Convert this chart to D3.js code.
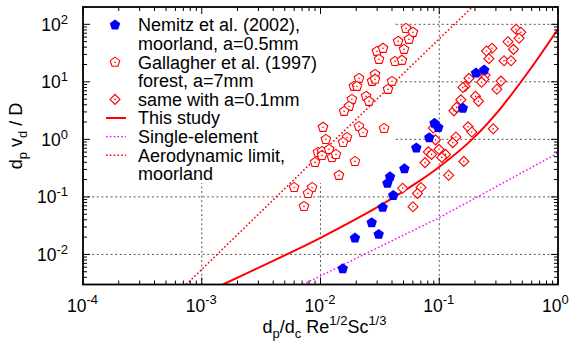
<!DOCTYPE html>
<meta charset="utf-8">
<script src="https://d3js.org/d3.v7.min.js"></script>
<style>
  body { margin: 0; background: #fff; }
  text { font-family: "Liberation Sans", Arial, sans-serif; fill: #000; }
</style>

<div id="viz"></div>

<script>

// axis ticks (decades) and their exponents
var xMajor = [1e-4, 1e-3, 1e-2, 1e-1, 1];
var xExp   = ["-4", "-3", "-2", "-1", "0"];
var yMajor = [1e-2, 1e-1, 1, 10, 100];
var yExp   = ["-2", "-1", "0", "1", "2"];

// Nemitz et al. (2002), moorland, a=0.5mm
var nemitzX = [0.0154, 0.0195, 0.0270, 0.0309, 0.0334, 0.0410, 0.0366, 0.0385,
               0.0509, 0.0641, 0.0824, 0.0912, 0.0982, 0.158, 0.204, 0.239];
var nemitzY = [0.00564, 0.0192, 0.0356, 0.0223, 0.0657, 0.106, 0.172, 0.223,
               0.307, 0.706, 1.07, 1.90, 1.60, 3.46, 14.2, 16.0];

// Gallagher et al. (1997) forest, a=7mm
var gallX = [0.0525, 0.060, 0.0556, 0.045, 0.0505, 0.0299, 0.0336, 0.0311, 0.0424, 0.0485,
             0.0288, 0.0211, 0.0272, 0.0288, 0.040, 0.0191, 0.0203, 0.037, 0.0242, 0.0256,
             0.0184, 0.0174, 0.0158, 0.0211, 0.0228, 0.0343, 0.0105, 0.0111, 0.0167, 0.0155,
             0.00953, 0.0103, 0.0118, 0.0125, 0.0135, 0.0103, 0.0090, 0.0195, 0.0143, 0.0060,
             0.0085, 0.00785, 0.00726];
var gallY = [85, 72.6, 54.8, 50.6, 36.7, 33.9, 38.3, 24.6, 22.7, 23.7,
             13.5, 11.5, 10.2, 11.1, 10.2, 8.35, 8.35, 7.41, 5.6, 4.58,
             4.96, 3.75, 3.07, 1.68, 1.32, 1.55, 1.62, 1.0, 1.08, 0.887,
             0.594, 0.618, 0.67, 0.486, 0.548, 0.527, 0.398, 0.414, 0.237, 0.146,
             0.146, 0.115, 0.0684];

// same with a=0.1mm
var smallX = [0.443, 0.487, 0.470, 0.379, 0.422, 0.278, 0.250, 0.262, 0.351, 0.402,
              0.243, 0.238, 0.227, 0.178, 0.165, 0.158, 0.331, 0.306, 0.202, 0.214,
              0.152, 0.133, 0.140, 0.175, 0.188, 0.285, 0.138, 0.130, 0.0891, 0.0929,
              0.0995, 0.0809, 0.0861, 0.113, 0.105, 0.0759, 0.161, 0.120, 0.0701, 0.0656,
              0.0492, 0.0601];
var smallY = [81.8, 72.6, 57.1, 49.6, 36.7, 38.3, 34.3, 25.3, 23.2, 23.2,
              13.2, 11.1, 9.8, 11.5, 8.35, 8.0, 10.3, 7.41, 5.6, 4.58,
              4.86, 3.13, 3.6, 1.65, 1.34, 1.53, 1.10, 0.877, 1.58, 0.98,
              0.67, 0.606, 0.548, 0.548, 0.486, 0.394, 0.414, 0.237, 0.146, 0.115,
              0.141, 0.0676];

// This study
var studyX = [0.00151, 0.00456, 0.0101, 0.0317, 0.0625, 0.101, 0.189, 0.325, 0.581, 1];
var studyY = [0.0030, 0.00879, 0.0196, 0.0703, 0.168, 0.338, 1.0, 3.37, 16.4, 83];

// Single-element
var singleX = [0.0071, 0.1, 1];
var singleY = [0.003, 0.0435, 0.58];

// Aerodynamic limit, moorland
var aeroX = [0.00074, 0.01, 0.1, 0.19];
var aeroY = [0.003, 0.56, 56, 200];

var legendRows = ["Nemitz et al. (2002),", "moorland, a=0.5mm", "Gallagher et al. (1997)",
                  "forest, a=7mm", "same with a=0.1mm", "This study", "Single-element",
                  "Aerodynamic limit,", "moorland"];

var margin = {top: 7, right: 15, bottom: 60.5, left: 83},
    width = 573 - margin.left - margin.right,
    height = 345 - margin.top - margin.bottom;

var root = d3.select("#viz")
  .append("svg")
    .attr("width", 573)
    .attr("height", 345);

var svg = root.append("g")
    .attr("transform", "translate(" + margin.left + "," + margin.top + ")");

var x = d3.scaleLog().domain([1e-4, 1]).range([0, width]);
var y = d3.scaleLog().domain([0.003, 200]).range([height, 0]);

svg.append("clipPath").attr("id", "clip")
  .append("rect").attr("width", width).attr("height", height);

// grid
var grid = svg.append("g").attr("stroke", "#555").attr("stroke-width", 1)
  .attr("stroke-dasharray", "2,2.6");
grid.selectAll(".gx").data(xMajor.slice(1, 4)).enter().append("line")
  .attr("x1", function(d) { return x(d); }).attr("x2", function(d) { return x(d); })
  .attr("y1", 0).attr("y2", height);
grid.selectAll(".gy").data(yMajor).enter().append("line")
  .attr("y1", function(d) { return y(d); }).attr("y2", function(d) { return y(d); })
  .attr("x1", 0).attr("x2", width);

// opaque key box
svg.append("rect")
  .attr("x", 0).attr("y", 0)
  .attr("width", 312).attr("height", 176)
  .style("fill", "#fff");

// pentagon symbol type
var pentagon = {
  draw: function(context, size) {
    var r = Math.sqrt(size / 2.378);
    for (var i = 0; i < 5; i++) {
      var a = -Math.PI / 2 + i * 2 * Math.PI / 5;
      if (i === 0) context.moveTo(r * Math.cos(a), r * Math.sin(a));
      else context.lineTo(r * Math.cos(a), r * Math.sin(a));
    }
    context.closePath();
  }
};

var plot = svg.append("g").attr("clip-path", "url(#clip)");

var line = d3.line()
  .x(function(d) { return x(d[0]); })
  .y(function(d) { return y(d[1]); });

plot.append("path")
  .datum(d3.zip(aeroX, aeroY))
  .attr("d", line)
  .style("fill", "none").style("stroke", "#f00")
  .style("stroke-width", 1.6).style("stroke-dasharray", "1.6,2.2");

plot.append("path")
  .datum(d3.zip(singleX, singleY))
  .attr("d", line)
  .style("fill", "none").style("stroke", "#f0f")
  .style("stroke-width", 1.4).style("stroke-dasharray", "1.6,2.2");

plot.append("path")
  .datum(d3.zip(studyX, studyY))
  .attr("d", line.curve(d3.curveCatmullRom))
  .style("fill", "none").style("stroke", "#f00")
  .style("stroke-width", 2);

function openMarks(xs, ys, type, size, rot) {
  var g = plot.append("g");
  var pts = d3.zip(xs, ys);
  g.selectAll("path").data(pts).enter().append("path")
    .attr("d", d3.symbol().type(type).size(size))
    .attr("transform", function(d) {
      return "translate(" + x(d[0]) + "," + y(d[1]) + ") rotate(" + rot + ")"; })
    .style("fill", "#fff").style("stroke", "#f00").style("stroke-width", 1.1);
  g.selectAll("circle").data(pts).enter().append("circle")
    .attr("cx", function(d) { return x(d[0]); })
    .attr("cy", function(d) { return y(d[1]); })
    .attr("r", 0.8)
    .style("fill", "#f00");
}

openMarks(gallX, gallY, pentagon, 60, 0);
openMarks(smallX, smallY, d3.symbolSquare, 50, 45);

plot.append("g").selectAll("path")
  .data(d3.zip(nemitzX, nemitzY)).enter().append("path")
    .attr("d", d3.symbol().type(pentagon).size(72))
    .attr("transform", function(d) { return "translate(" + x(d[0]) + "," + y(d[1]) + ")"; })
    .style("fill", "#00f");

// legend
var rowY = function(i) { return 18 + i * 18.6; };
var legend = svg.append("g");
legend.selectAll("text").data(legendRows).enter().append("text")
  .attr("x", 55)
  .attr("y", function(d, i) { return rowY(i) + 6.4; })
  .style("font-size", "18px")
  .text(function(d) { return d; });

legend.append("path")
  .attr("d", d3.symbol().type(pentagon).size(72))
  .attr("transform", "translate(32," + rowY(0) + ")")
  .style("fill", "#00f");
legend.append("path")
  .attr("d", d3.symbol().type(pentagon).size(60))
  .attr("transform", "translate(32," + rowY(2) + ")")
  .style("fill", "#fff").style("stroke", "#f00").style("stroke-width", 1.1);
legend.append("circle").attr("cx", 32).attr("cy", rowY(2)).attr("r", 0.8).style("fill", "#f00");
legend.append("path")
  .attr("d", d3.symbol().type(d3.symbolSquare).size(50))
  .attr("transform", "translate(32," + rowY(4) + ") rotate(45)")
  .style("fill", "#fff").style("stroke", "#f00").style("stroke-width", 1.1);
legend.append("circle").attr("cx", 32).attr("cy", rowY(4)).attr("r", 0.8).style("fill", "#f00");
legend.append("line").attr("x1", 23).attr("x2", 43).attr("y1", rowY(5)).attr("y2", rowY(5))
  .style("stroke", "#f00").style("stroke-width", 2);
legend.append("line").attr("x1", 23).attr("x2", 43).attr("y1", rowY(6)).attr("y2", rowY(6))
  .style("stroke", "#f0f").style("stroke-width", 1.4).style("stroke-dasharray", "1.6,2.2");
legend.append("line").attr("x1", 23).attr("x2", 43).attr("y1", rowY(7)).attr("y2", rowY(7))
  .style("stroke", "#f00").style("stroke-width", 1.6).style("stroke-dasharray", "1.6,2.2");

// ticks on all four sides
function isMajor(v) {
  var l = Math.log10(v);
  return Math.abs(l - Math.round(l)) < 1e-6;
}
var ticks = svg.append("g").attr("stroke", "#000").attr("stroke-width", 1);
x.ticks().forEach(function(v) {
  var len = isMajor(v) ? 7 : 4, px = x(v);
  ticks.append("line").attr("x1", px).attr("x2", px).attr("y1", height).attr("y2", height - len);
  ticks.append("line").attr("x1", px).attr("x2", px).attr("y1", 0).attr("y2", len);
});
y.ticks().forEach(function(v) {
  var len = isMajor(v) ? 7 : 4, py = y(v);
  ticks.append("line").attr("y1", py).attr("y2", py).attr("x1", 0).attr("x2", len);
  ticks.append("line").attr("y1", py).attr("y2", py).attr("x1", width).attr("x2", width - len);
});

svg.append("rect")
  .attr("width", width).attr("height", height)
  .style("fill", "none").style("stroke", "#000").style("stroke-width", 1.8);

// tick labels
xMajor.forEach(function(v, i) {
  var t = svg.append("text")
    .attr("x", x(v) - 16).attr("y", height + 27.5)
    .style("font-size", "17.5px");
  t.append("tspan").text("10");
  t.append("tspan").attr("dy", -8).style("font-size", "13px").text(xExp[i]);
});
yMajor.forEach(function(v, i) {
  var t = svg.append("text")
    .attr("x", -15).attr("y", y(v) + 6.3)
    .attr("text-anchor", "end")
    .style("font-size", "17.5px");
  t.append("tspan").text("10");
  t.append("tspan").attr("dy", -7).style("font-size", "13px").text(yExp[i]);
});

// axis titles
var xt = svg.append("text")
  .attr("x", width / 2 + 4).attr("y", height + 48.5)
  .attr("text-anchor", "middle")
  .style("font-size", "18px");
xt.append("tspan").text("d");
xt.append("tspan").attr("dy", 5).style("font-size", "13px").text("p");
xt.append("tspan").attr("dy", -5).text("/d");
xt.append("tspan").attr("dy", 5).style("font-size", "13px").text("c");
xt.append("tspan").attr("dy", -5).text(" Re");
xt.append("tspan").attr("dy", -8).style("font-size", "13px").text("1/2");
xt.append("tspan").attr("dy", 8).text("Sc");
xt.append("tspan").attr("dy", -8).style("font-size", "13px").text("1/3");

var yt = root.append("text")
  .attr("transform", "translate(22,136) rotate(-90)")
  .attr("text-anchor", "middle")
  .style("font-size", "18px");
yt.append("tspan").text("d");
yt.append("tspan").attr("dy", 5).style("font-size", "13px").text("p");
yt.append("tspan").attr("dy", -5).text(" v");
yt.append("tspan").attr("dy", 5).style("font-size", "13px").text("d");
yt.append("tspan").attr("dy", -5).text(" / D");

</script>
